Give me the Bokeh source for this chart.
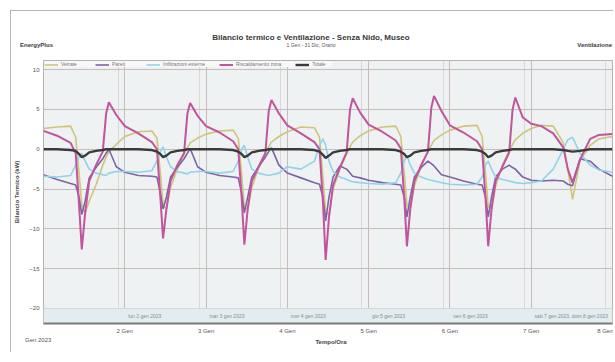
from bokeh.plotting import figure
from bokeh.layouts import column
from bokeh.models import Range1d, FixedTicker, Legend, LegendItem, BoxAnnotation, ColumnDataSource, Div
from bokeh.core.properties import value
from bokeh.embed import file_html
from bokeh.resources import INLINE

# ---------------- data ----------------
hours = [
    0, 4, 8, 9.5, 10.5, 11.3, 12.3, 13.5, 15.5, 17.5, 18.5, 19.3, 21.5,
    24, 28, 32, 33.5, 34.5, 35.3, 36.3, 37.5, 39.5, 41.5, 42.5, 43.3, 45.5,
    48, 52, 56, 57.5, 58.5, 59.3, 60.3, 61.5, 63.5, 65.5, 66.5, 67.3, 69.5,
    72, 76, 80, 81.5, 82.5, 83.3, 84.3, 85.5, 87.5, 89.5, 90.5, 91.3, 93.5,
    96, 100, 104, 105.5, 106.5, 107.3, 108.3, 109.5, 111.5, 113.5, 114.5, 115.3, 117.5,
    120, 124, 128, 129.5, 130.5, 131.3, 132.3, 133.5, 135.5, 137.5, 138.5, 139.3, 141.5,
    144, 147, 150.5, 153.5, 154.8, 156.2, 158.4, 161.4, 164, 168,
]

vetrate = [
    2.6, 2.8, 2.9, 1.5, -3.0, -7.0, -8.0, -6.5, -4.5, -2.0, -1.0, -0.3, 0.6,
    1.6, 2.2, 2.3, 1.4, -3.0, -7.0, -7.5, -4.8, -2.5, -0.6, 0.2, 0.8, 1.4,
    1.9, 2.3, 2.4, 1.4, -3.2, -7.3, -7.6, -4.8, -2.4, -0.5, 0.3, 0.9, 1.6,
    2.2, 2.8, 2.7, 1.5, -3.5, -8.0, -8.2, -5.0, -2.5, -0.6, 0.3, 0.9, 1.7,
    2.3, 2.8, 2.9, 1.6, -3.0, -7.0, -7.4, -4.6, -2.2, -0.3, 0.5, 1.1, 1.8,
    2.4, 2.9, 3.0, 1.6, -3.0, -7.2, -7.5, -4.6, -2.0, -0.2, 0.6, 1.2, 2.0,
    2.6, 3.0, 2.9, 0.8, -2.5, -6.3, -1.5, 0.5, 1.3, 1.6,
]

pareti = [
    -3.2, -3.8, -4.3, -4.5, -6.0, -8.2, -6.5, -3.6, -2.3, -1.2, -0.5, 0.0, -2.2,
    -2.9, -3.3, -3.4, -3.5, -5.5, -7.5, -6.0, -3.5, -2.3, -1.2, -0.5, 0.1, -2.2,
    -2.9, -3.3, -3.5, -3.6, -5.5, -8.0, -6.0, -3.5, -2.2, -1.0, -0.3, 0.2, -2.0,
    -3.0, -3.6, -4.2, -4.4, -6.0, -9.0, -6.0, -3.5, -2.1, -2.5, -3.0, -3.4, -3.6,
    -3.9, -4.2, -4.4, -4.5, -6.0, -8.5, -6.0, -3.5, -2.3, -1.5, -1.8, -2.1, -3.2,
    -3.5, -4.0, -4.4, -4.5, -6.0, -8.5, -6.0, -3.5, -2.5, -2.0, -2.3, -2.5, -3.5,
    -3.9, -4.0, -3.9, -4.0, -4.4, -4.6, -1.2, -1.5, -2.5, -3.4,
]

infiltrazioni = [
    -3.4, -3.5, -3.3, -2.0, -1.0, -0.5, -1.5, -2.5, -3.0, -3.2, -3.3, -3.0, -2.8,
    -2.8, -2.9, -2.7, -1.5, -0.3, 0.3, -1.0, -2.2, -2.8, -3.0, -3.1, -2.9, -2.8,
    -2.8, -3.0, -2.8, -1.5, 0.0, 0.5, -1.0, -2.5, -3.0, -3.2, -3.3, -3.2, -3.0,
    -2.2, -2.5, -1.5, 0.5, 1.3, 0.5, -1.5, -2.8, -3.5, -3.8, -4.0, -4.1, -4.2,
    -4.3, -4.4, -4.2, -3.0, -1.5, -0.8, -2.0, -3.0, -3.5, -3.8, -3.9, -4.0, -4.2,
    -4.4, -4.5, -4.4, -3.5, -2.0, -1.5, -2.5, -3.5, -3.8, -4.0, -4.1, -4.2, -4.3,
    -4.2, -4.0, -2.5, 0.0, 1.2, 1.5, -0.5, -2.0, -2.6, -2.9,
]

riscaldamento = [
    2.3, 1.7, 0.8, -0.5, -7.0, -12.6, -8.0, -4.0, -2.0, -0.3, 4.5, 5.9, 4.3,
    2.9, 2.0, 0.9, 0.0, -6.0, -11.2, -7.5, -4.0, -2.0, -0.5, 4.5, 5.8, 4.2,
    2.9, 2.1, 1.0, 0.0, -6.0, -12.0, -7.5, -4.0, -2.2, -0.5, 4.8, 6.2, 4.5,
    3.0, 2.0, 0.9, 0.0, -6.5, -13.9, -8.5, -4.5, -2.3, -0.4, 5.0, 6.4, 4.6,
    3.1, 2.2, 1.1, 0.1, -6.0, -12.2, -7.5, -4.0, -2.0, -0.3, 5.2, 6.7, 4.8,
    3.0, 2.1, 1.0, 0.0, -6.0, -12.2, -7.5, -4.0, -2.2, -0.4, 5.0, 6.5, 4.0,
    3.2, 2.9, 2.0, 0.2, -2.5, -4.2, -1.3, 1.3, 1.8, 1.9,
]

totale = [
    0.0, 0.0, -0.1, -0.2, -0.6, -1.0, -0.8, -0.4, -0.2, -0.1, 0.0, 0.0, 0.0,
    0.0, 0.0, -0.1, -0.3, -0.6, -1.0, -0.8, -0.4, -0.2, -0.1, 0.0, 0.0, 0.0,
    0.0, 0.0, -0.1, -0.3, -0.6, -1.0, -0.8, -0.4, -0.2, -0.1, 0.0, 0.0, 0.0,
    0.0, 0.0, -0.1, -0.3, -0.7, -1.1, -0.8, -0.4, -0.2, -0.1, 0.0, 0.0, 0.0,
    0.0, 0.0, -0.1, -0.3, -0.6, -1.0, -0.8, -0.4, -0.2, -0.1, 0.0, 0.0, 0.0,
    0.0, 0.0, -0.1, -0.3, -0.6, -1.0, -0.8, -0.4, -0.2, -0.1, 0.0, 0.0, 0.0,
    0.0, 0.0, 0.0, -0.1, -0.2, -0.3, -0.2, 0.0, 0.0, 0.0,
]

series_names = ["Vetrate", "Pareti", "Infiltrazioni esterne", "Riscaldamento zona", "Totale"]
series_colors = ["#cfc47a", "#7e63a6", "#92d2ea", "#c2549c", "#3b3b3b"]
series_widths = [1.6, 1.6, 1.6, 2.0, 2.4]

day_ticks = [24, 48, 72, 96, 120, 144, 168]
day_tick_labels = ["2 Gen", "3 Gen", "4 Gen", "5 Gen", "6 Gen", "7 Gen", "8 Gen"]
minor_ticks = [22, 46, 70, 94, 118, 142, 166]
y_ticks = [-20, -15, -10, -5, 0, 5, 10]

day_label_x = [25.0, 49.0, 73.0, 97.0, 121.0, 145.0]
day_label_text = ["lun 2 gen 2023", "mar 3 gen 2023", "mer 4 gen 2023",
                  "gio 5 gen 2023", "ven 6 gen 2023", "sab 7 gen 2023, dom 8 gen 2023"]

title_text = "Bilancio termico e Ventilazione - Senza Nido, Museo"
subtitle_text = "1 Gen - 31 Dic, Orario"
left_note = "EnergyPlus"
right_note = "Ventilazione"
x_title = "Tempo/Ora"
y_title = "Bilancio Termico (kW)"
period_note = "Gen 2023"

FONT = "Liberation Sans"
W = 602


def span(text, top, size, bold=False, left=None, right=None, center=False, color="#444444"):
    st = "position:absolute;top:%dpx;line-height:8px;font-size:%s;color:%s;white-space:nowrap;" % (top, size, color)
    if bold:
        st += "font-weight:bold;"
    if center:
        st += "left:0;width:%dpx;text-align:center;" % (2 * left)
    elif left is not None:
        st += "left:%dpx;" % left
    else:
        st += "right:%dpx;" % right
    return '<div style="%s">%s</div>' % (st, text)


# ---------------- header ----------------
hdr_html = ('<div style="position:relative;width:%dpx;height:45px;font-family:\'%s\';">' % (W, FONT)
            + span(title_text, 23, "8px", bold=True, left=300, center=True, color="#3a3a3a")
            + span(subtitle_text, 30, "5px", left=300, center=True, color="#555555")
            + span(left_note, 30, "6px", bold=True, left=9, color="#3c3c3c")
            + span(right_note, 30, "6px", bold=True, right=1, color="#3c3c3c")
            + '</div>')
hdr = Div(text=hdr_html, width=W, height=45, margin=0)

# ---------------- main chart ----------------
p = figure(width=W, height=280, x_range=Range1d(0, 168), y_range=Range1d(-21.9, 11.15),
           output_backend="svg", toolbar_location=None,
           min_border_left=31, min_border_right=1, min_border_top=4, min_border_bottom=13,
           background_fill_color="#eef2f2", border_fill_color="white",
           outline_line_color="#b9b0b0")

p.xaxis.ticker = FixedTicker(ticks=day_ticks, minor_ticks=minor_ticks)
p.xaxis.major_label_overrides = {t: l for t, l in zip(day_ticks, day_tick_labels)}
p.yaxis.ticker = FixedTicker(ticks=y_ticks)
p.xgrid.ticker = FixedTicker(ticks=day_ticks, minor_ticks=minor_ticks)
p.ygrid.ticker = FixedTicker(ticks=y_ticks)
p.xgrid.grid_line_color = "#c8bbbb"
p.ygrid.grid_line_color = "#c8bbbb"
p.xgrid.minor_grid_line_color = "#dcd6d6"

for ax in (p.xaxis[0], p.yaxis[0]):
    ax.major_label_text_font_size = "6px"
    ax.major_label_text_color = "#555555"
    ax.major_label_text_font = FONT
    ax.axis_label_text_font_size = "6px"
    ax.axis_label_text_font = FONT
    ax.axis_label_text_font_style = "bold"
    ax.axis_label_text_color = "#444444"
    ax.major_tick_line_color = None
    ax.minor_tick_line_color = None
    ax.major_tick_out = 0
    ax.major_tick_in = 0
    ax.minor_tick_out = 0
    ax.minor_tick_in = 0

p.yaxis.axis_label = y_title
p.xaxis.axis_line_color = "#7a7a7a"
p.xaxis.axis_line_width = 2
p.yaxis.axis_line_color = None
p.xaxis.major_label_standoff = 4
p.yaxis.major_label_standoff = 4
p.yaxis.axis_label_standoff = 6

# bottom date strip
p.add_layout(BoxAnnotation(top=-20, fill_color="#e3edf0", fill_alpha=1.0, line_color=None, level="underlay"))
p.text(x=day_label_x, y=[-21.0] * len(day_label_x), text=day_label_text,
       text_font=value(FONT), text_font_size="5px", text_color="#8a8a8a",
       text_baseline="middle", text_align="left")

src = ColumnDataSource(dict(h=hours, s0=vetrate, s1=pareti, s2=infiltrazioni, s3=riscaldamento, s4=totale))
items = []
for i, name in enumerate(series_names):
    r = p.line("h", "s%d" % i, source=src, line_color=series_colors[i], line_width=series_widths[i])
    items.append(LegendItem(label=name, renderers=[r]))

legend = Legend(items=items, orientation="horizontal", location="top_left",
                label_text_font_size="5px", label_text_font=FONT, label_text_color="#777777",
                glyph_width=14, glyph_height=5, label_height=5, label_standoff=3,
                spacing=14, padding=1, margin=1,
                background_fill_color="#f8f8f8", background_fill_alpha=1.0,
                border_line_color=None)
p.add_layout(legend)

# ---------------- footer ----------------
ftr_html = ('<div style="position:relative;width:%dpx;height:16px;font-family:\'%s\';">' % (W, FONT)
            + span(period_note, 0, "6px", left=14, color="#555555")
            + span(x_title, 2, "6px", bold=True, left=320, center=True)
            + '</div>')
ftr = Div(text=ftr_html, width=W, height=16, margin=0)

layout = column(hdr, p, ftr, margin=(10, 0, 0, 10),
                styles={"border-left": "1px solid #b5b5b5", "border-top": "1px solid #b5b5b5"})

open("out.html", "w").write(file_html(layout, INLINE))
